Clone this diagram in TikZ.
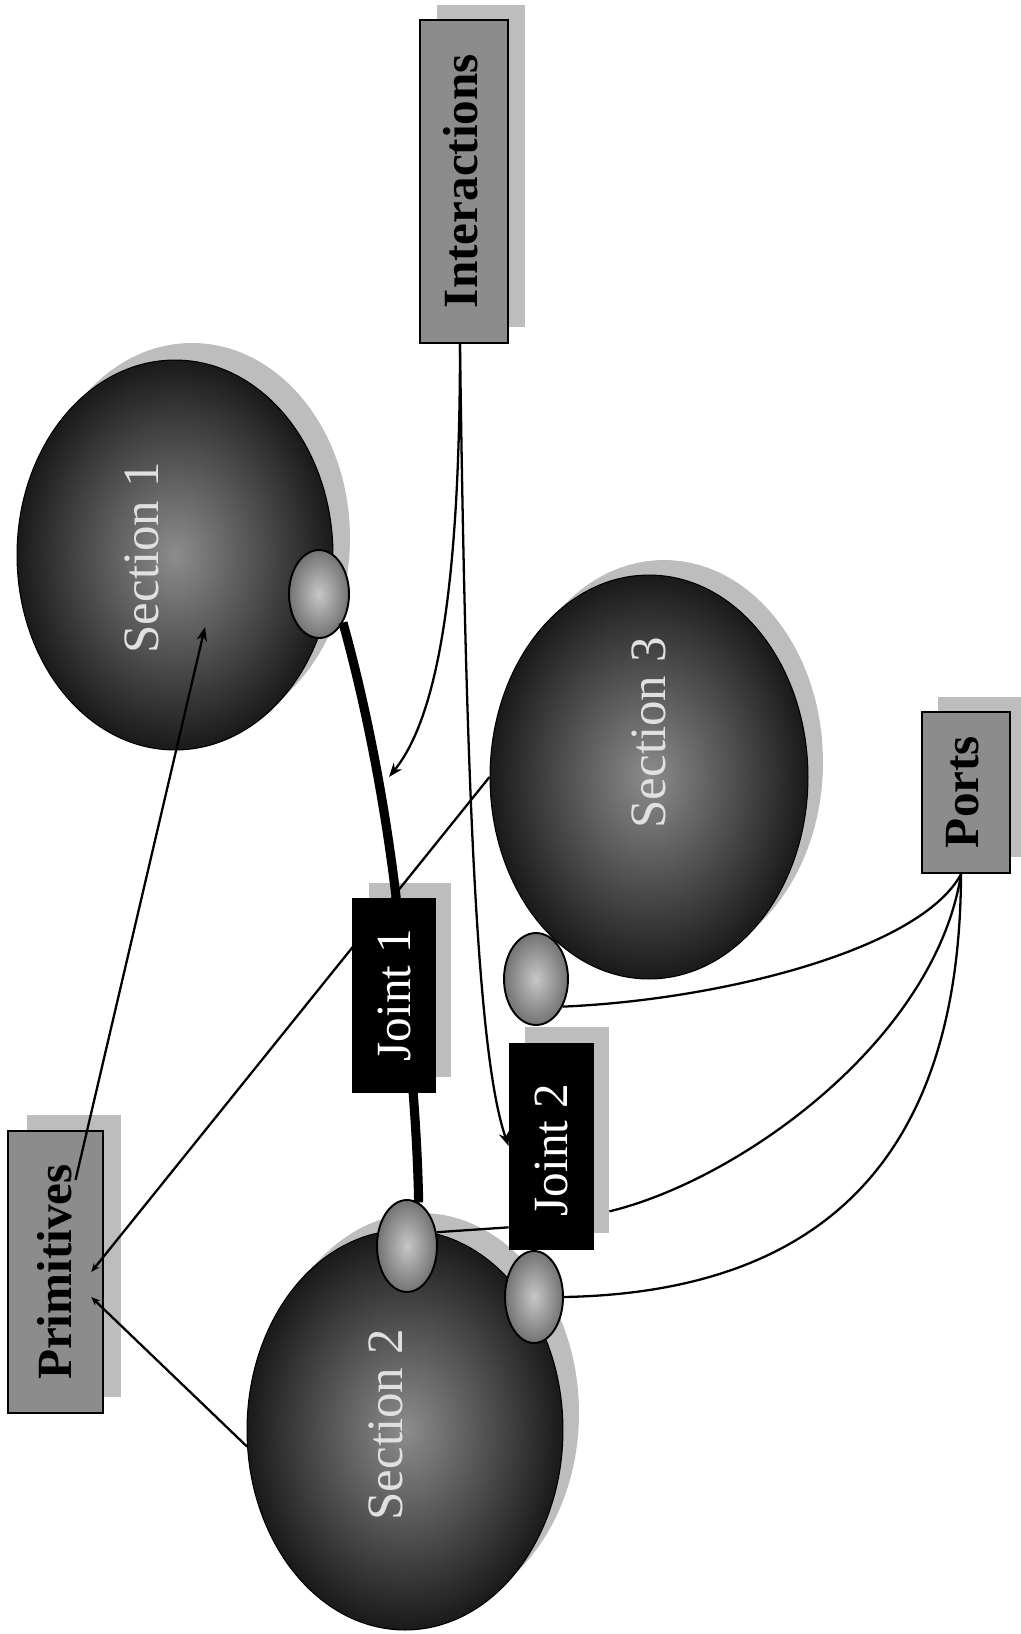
\documentclass[tikz,border=0pt]{standalone}
\usepackage{fontspec}
\setmainfont{Liberation Serif}
\usetikzlibrary{arrows.meta,shapes.geometric,calc}
\pgfdeclarelayer{shadowlayer}
\pgfdeclarelayer{front}
\pgfsetlayers{shadowlayer,main,front}
\begin{document}
\begin{tikzpicture}[x=0.02cm,y=-0.02cm,
  secnode/.style={ellipse, inner sep=0pt, draw=black, line width=0.6pt, shade, inner color=black!45, outer color=black!90},
  portnode/.style={ellipse, inner sep=0pt, draw=black, line width=1.1pt, shade, inner color=black!22, outer color=black!55},
  secshadow/.style={ellipse, inner sep=0pt, fill=black!26, draw=none},
  graybox/.style={rectangle, inner sep=0pt, draw=black, line width=1.4pt, fill=black!45},
  jointbox/.style={rectangle, inner sep=0pt, fill=black, draw=black},
  boxshadow/.style={rectangle, inner sep=0pt, fill=black!26, draw=none},
  boxlabel/.style={rotate=90, inner sep=0pt, font=\fontsize{28}{30}\selectfont\bfseries, text=black},
  seclabel/.style={rotate=90, inner sep=0pt, font=\fontsize{29}{31}\selectfont, text=black!12},
  jointlabel/.style={rotate=90, inner sep=0pt, font=\fontsize{28}{30}\selectfont, text=white},
  conn/.style={line width=1.3pt, draw=black},
  thickconn/.style={line width=5.2pt, draw=black},
  arr/.style={-{Stealth[length=8pt,width=6pt]}},
  arrsmall/.style={-{Stealth[length=5pt,width=4pt]}}
]
\useasboundingbox (0,0) rectangle (1021,1634);

% shadows
\begin{pgfonlayer}{shadowlayer}
\fill[white] (0,0) rectangle (1021,1634);
\node[secshadow, minimum width=6.32cm, minimum height=7.8cm] (s1s) at (192,538) {};
\node[secshadow, minimum width=6.36cm, minimum height=8.08cm] (s3s) at (664,762) {};
\node[secshadow, minimum width=6.32cm, minimum height=8.0cm] (s2s) at (421,1413) {};
\node[boxshadow, minimum width=1.76cm, minimum height=6.46cm] (inters) at (481,166) {};
\node[boxshadow, minimum width=1.76cm, minimum height=3.22cm] (portss) at (982,777) {};
\node[boxshadow, minimum width=1.9cm, minimum height=5.64cm] (prims) at (74,1256) {};
\node[boxshadow, minimum width=1.66cm, minimum height=3.88cm] (j1s) at (410,980) {};
\node[boxshadow, minimum width=1.68cm, minimum height=4.12cm] (j2s) at (567,1130) {};
\end{pgfonlayer}

% sections
\node[secnode, minimum width=6.32cm, minimum height=7.8cm] (s1) at (175,555) {};
\node[secnode, minimum width=6.36cm, minimum height=8.08cm] (s3) at (649,777) {};
\node[secnode, minimum width=6.32cm, minimum height=8.0cm] (s2) at (405,1430) {};
\node[seclabel] (s1t) at (142,558) {Section 1};
\node[seclabel] (s3t) at (649,733) {Section 3};
\node[seclabel] (s2t) at (386,1425) {Section 2};

% ports (small ellipses)
\node[portnode, minimum width=1.2cm, minimum height=1.76cm] (p1) at (319,594) {};
\node[portnode, minimum width=1.28cm, minimum height=1.84cm] (p3) at (536,979) {};
\node[portnode, minimum width=1.2cm, minimum height=1.84cm] (p2a) at (407,1246) {};
\node[portnode, minimum width=1.16cm, minimum height=1.84cm] (p2b) at (534,1297) {};

% gray boxes
\node[graybox, minimum width=1.76cm, minimum height=6.46cm] (inter) at (464,181.5) {};
\node[boxlabel] (intert) at (461,181) {Interactions};
\node[graybox, minimum width=1.76cm, minimum height=3.22cm] (ports) at (966,792.5) {};
\node[boxlabel] (portst) at (963,792) {Ports};
\node[graybox, minimum width=1.9cm, minimum height=5.64cm] (prim) at (55.5,1272) {};
\node[boxlabel] (primt) at (55,1272) {Primitives};

% joints (front layer)
\begin{pgfonlayer}{front}
\node[jointbox, minimum width=1.66cm, minimum height=3.88cm] (j1) at (393.5,995) {};
\node[jointlabel] (j1t) at (394,995) {Joint 1};
\node[jointbox, minimum width=1.68cm, minimum height=4.12cm] (j2) at (551,1146) {};
\node[jointlabel] (j2t) at (551,1150) {Joint 2};
\end{pgfonlayer}

% connectors
\draw[thickconn] (p1.-50) .. controls (370,720) and (395,850) .. (405,990) .. controls (410,1060) and (417,1120) .. (p2a.75);
\coordinate (hit) at (389,777);
\draw[conn,arr] ([xshift=-0.08cm]inter.south) .. controls (460,600) and (435,720) .. (hit);
\draw[conn,arr] ([xshift=-0.08cm]inter.south) .. controls (466,800) and (478,1060) .. (j2.west);
\draw[conn] (p2a.25) -- ([yshift=0.44cm]j2.south west);
\draw[conn] ([xshift=-0.1cm]ports.south) .. controls (920,950) and (720,1000) .. (p3.-46);
\draw[conn] ([xshift=-0.1cm]ports.south) .. controls (935,1040) and (740,1180) .. ([yshift=0.44cm]j2s.south east);
\draw[conn] ([xshift=-0.1cm]ports.south) .. controls (960,1150) and (830,1292) .. (p2b.east);
\draw[conn,arr] ([shift={(20,-92)}]prim.center) -- ([shift={(30,72)}]s1.center);
\draw[conn,arrsmall] (s3.west) -- ([xshift=-0.26cm]prim.east);
\draw[conn,arrsmall] (s2.186) -- ([shift={(-13,25)}]prim.east);
\end{tikzpicture}
\end{document}
